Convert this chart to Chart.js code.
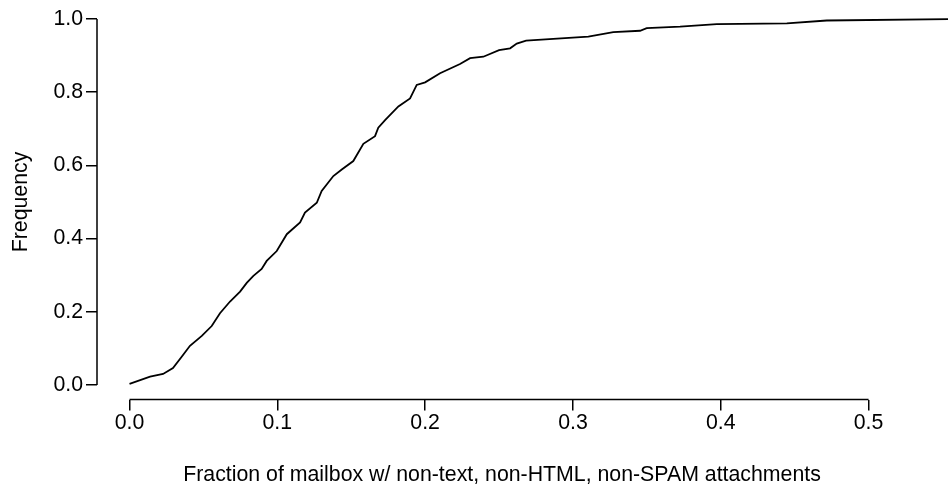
<!DOCTYPE html>
<html>
<head>
<meta charset="utf-8">
<title>Fraction of mailbox attachments CDF</title>
<script src="https://cdn.jsdelivr.net/npm/chart.js@4.4.0/dist/chart.umd.min.js"></script>
<style>
    html, body { margin: 0; padding: 0; background: #fff; }
    #wrap { width: 948px; height: 489px; position: relative; }
</style>
</head>
<body>
<div id="wrap"><canvas id="cdf_chart"></canvas></div>
<script>
// values
var fraction = [0.000, 0.0139, 0.0227, 0.0294, 0.0353, 0.0409, 0.0489, 0.0556, 0.0612, 0.0680,
                0.0748, 0.0793, 0.0838, 0.0894, 0.0928, 0.0996, 0.1064, 0.1154, 0.1187, 0.1267,
                0.1300, 0.1379, 0.1436, 0.1514, 0.1582, 0.1661, 0.1683, 0.1729, 0.1819, 0.1898,
                0.1943, 0.2000, 0.2101, 0.2236, 0.2304, 0.2394, 0.2500, 0.2575, 0.2620, 0.2683,
                0.3104, 0.3273, 0.3454, 0.3499, 0.3725, 0.3973, 0.4447, 0.4717, 0.5600];
var frequency = [0.003, 0.023, 0.030, 0.046, 0.077, 0.107, 0.134, 0.161, 0.196, 0.228,
                 0.255, 0.279, 0.298, 0.317, 0.339, 0.366, 0.412, 0.444, 0.471, 0.498,
                 0.530, 0.571, 0.589, 0.612, 0.659, 0.680, 0.703, 0.724, 0.761, 0.783,
                 0.820, 0.827, 0.852, 0.877, 0.893, 0.897, 0.915, 0.920, 0.933, 0.941,
                 0.952, 0.964, 0.968, 0.975, 0.979, 0.986, 0.988, 0.996, 1.000];
var x_ticks = [0.0, 0.1, 0.2, 0.3, 0.4, 0.5];
var y_ticks = [0.0, 0.2, 0.4, 0.6, 0.8, 1.0];

var points = [];
for (let i = 0; i < fraction.length; i++) {
    points.push({x: fraction[i], y: frequency[i]});
}

var font_main = {family: "'Liberation Sans', Arial, sans-serif", size: 21.3};

// axis lines only span the tick range (R style)
var axis_lines = {
    id: 'axis_lines',
    afterDraw: function (chart) {
        let ctx = chart.ctx;
        let xs = chart.scales.x;
        let ys = chart.scales.y;
        let area = chart.chartArea;
        ctx.save();
        ctx.strokeStyle = '#000';
        ctx.lineWidth = 1.5;
        ctx.beginPath();
        ctx.moveTo(area.left, ys.getPixelForValue(y_ticks[0]));
        ctx.lineTo(area.left, ys.getPixelForValue(y_ticks[y_ticks.length - 1]));
        ctx.moveTo(xs.getPixelForValue(x_ticks[0]), area.bottom);
        ctx.lineTo(xs.getPixelForValue(x_ticks[x_ticks.length - 1]), area.bottom);
        ctx.stroke();
        ctx.restore();
    }
};

Chart.defaults.font.family = font_main.family;
Chart.defaults.color = '#000';

var cdf_chart = new Chart(document.getElementById('cdf_chart').getContext('2d'), {
    type: 'line',
    data: {
        datasets: [{
            data: points,
            borderColor: '#000',
            borderWidth: 1.8,
            pointRadius: 0,
            tension: 0,
            fill: false,
            clip: false
        }]
    },
    options: {
        responsive: true,
        maintainAspectRatio: false,
        animation: false,
        layout: {
            padding: {top: 4.4, right: 41, left: 0, bottom: 0}
        },
        plugins: {
            legend: {display: false},
            tooltip: {enabled: false}
        },
        scales: {
            x: {
                type: 'linear',
                min: -0.022,
                max: 0.526,
                afterBuildTicks: function (scale) {
                    scale.ticks = x_ticks.map(function (v) { return {value: v}; });
                },
                afterFit: function (scale) {
                    scale.height = 89.4;
                    scale.paddingLeft = 0;
                    scale.paddingRight = 0;
                },
                grid: {drawOnChartArea: false, drawTicks: true, tickLength: 11, color: '#000', lineWidth: 1.5},
                border: {display: false},
                ticks: {
                    font: font_main,
                    padding: 0,
                    maxRotation: 0,
                    callback: function (value) { return Number(value).toFixed(1); }
                },
                title: {
                    display: true,
                    text: 'Fraction of mailbox w/ non-text, non-HTML, non-SPAM attachments',
                    font: font_main,
                    padding: {top: 0, bottom: 1}
                }
            },
            y: {
                type: 'linear',
                min: -0.04,
                max: 1.04,
                afterBuildTicks: function (scale) {
                    scale.ticks = y_ticks.map(function (v) { return {value: v}; });
                },
                afterFit: function (scale) {
                    scale.width = 97;
                    scale.paddingTop = 0;
                    scale.paddingBottom = 0;
                },
                grid: {drawOnChartArea: false, drawTicks: true, tickLength: 11, color: '#000', lineWidth: 1.5},
                border: {display: false},
                ticks: {
                    font: font_main,
                    padding: 3,
                    callback: function (value) { return Number(value).toFixed(1); }
                },
                title: {
                    display: true,
                    text: 'Frequency',
                    font: font_main,
                    padding: {top: 8, bottom: 0}
                }
            }
        }
    },
    plugins: [axis_lines]
});
</script>
</body>
</html>
